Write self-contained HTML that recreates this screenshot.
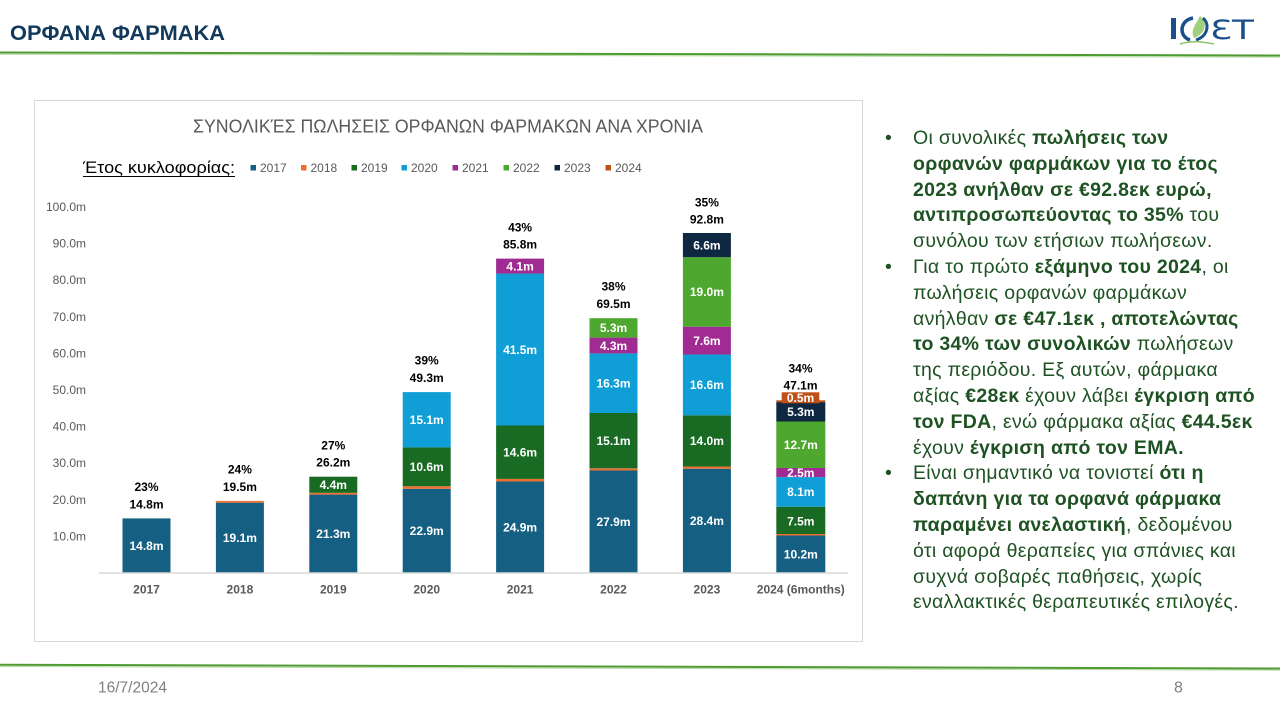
<!DOCTYPE html>
<html>
<head>
<meta charset="utf-8">
<style>
  html,body{margin:0;padding:0;background:#fff;}
  body{width:1280px;height:720px;position:relative;overflow:hidden;font-family:"Liberation Sans","DejaVu Sans",sans-serif;}
  #svg{position:absolute;left:0;top:0;}
  .txt{position:absolute;left:913px;top:126px;font-family:"Liberation Sans","DejaVu Sans",sans-serif;font-size:19.5px;letter-spacing:0.3px;line-height:25.8px;color:#1e5222;}
  .txt div{white-space:nowrap;position:relative;height:25.8px;}
  .txt b{font-weight:bold;}
  .bul{position:absolute;left:-28px;top:0;}
</style>
</head>
<body>
<svg id="svg" width="1280" height="720" viewBox="0 0 1280 720" xmlns="http://www.w3.org/2000/svg">
  <!-- header -->
  <text x="10" y="40" font-family="Liberation Sans, sans-serif" font-weight="bold" font-size="21" fill="#12395b" textLength="215" lengthAdjust="spacingAndGlyphs">ΟΡΦΑΝΑ ΦΑΡΜΑΚΑ</text>
  <line x1="0" y1="52.5" x2="1280" y2="55.5" stroke="#4e9a33" stroke-width="2"/>
  <line x1="0" y1="54.2" x2="1280" y2="57.2" stroke="#b5dba0" stroke-width="1"/>

  <!-- logo -->
  <g>
    <rect x="1171" y="18" width="5" height="21" fill="#1a4f8b"/>
    <path d="M1193 18 C1180 20 1178 36 1190 40" fill="none" stroke="#1a4f8b" stroke-width="3.5"/>
    <path d="M1194 38 C1206 34 1208 22 1200 16 C1196 24 1190 30 1194 38 Z" fill="#9fd07f"/>
    <path d="M1196 40 C1208 36 1210 24 1203 18" fill="none" stroke="#1a4f8b" stroke-width="3"/>
    <path d="M1180 44 C1192 40 1204 42 1214 44" fill="none" stroke="#8cc56a" stroke-width="1.5"/>
    <text x="1210" y="39" font-family="DejaVu Sans, sans-serif" font-size="27" fill="#1a4f8b" textLength="44" lengthAdjust="spacingAndGlyphs">ƐT</text>
  </g>

  <!-- chart panel -->
  <rect x="34.5" y="100.5" width="828" height="541" fill="#fff" stroke="#d9d9d9" stroke-width="1"/>

  <text x="448" y="132.5" text-anchor="middle" font-family="Liberation Sans, sans-serif" font-size="18" fill="#595959" textLength="510" lengthAdjust="spacingAndGlyphs">ΣΥΝΟΛΙΚΈΣ ΠΩΛΗΣΕΙΣ ΟΡΦΑΝΩΝ ΦΑΡΜΑΚΩΝ ΑΝΑ ΧΡΟΝΙΑ</text>

  <!-- legend -->
  <text x="83" y="173" font-family="Liberation Sans, sans-serif" font-size="17" fill="#000" textLength="152" lengthAdjust="spacingAndGlyphs">Έτος κυκλοφορίας:</text>
  <line x1="83" y1="176.5" x2="235" y2="176.5" stroke="#000" stroke-width="1"/>
  <g font-family="Liberation Sans, sans-serif" font-size="12" fill="#595959">
    <rect x="250.5" y="165" width="5.5" height="5.5" fill="#156082"/><text x="260" y="172">2017</text>
    <rect x="301" y="165" width="5.5" height="5.5" fill="#e97132"/><text x="310.5" y="172">2018</text>
    <rect x="351.5" y="165" width="5.5" height="5.5" fill="#196b24"/><text x="361" y="172">2019</text>
    <rect x="401.5" y="165" width="5.5" height="5.5" fill="#0f9ed5"/><text x="411" y="172">2020</text>
    <rect x="452.5" y="165" width="5.5" height="5.5" fill="#a02b93"/><text x="462" y="172">2021</text>
    <rect x="503.5" y="165" width="5.5" height="5.5" fill="#4ea72e"/><text x="513" y="172">2022</text>
    <rect x="554.5" y="165" width="5.5" height="5.5" fill="#0e2841"/><text x="564" y="172">2023</text>
    <rect x="605.5" y="165" width="5.5" height="5.5" fill="#c04f15"/><text x="615" y="172">2024</text>
  </g>

  <!-- y axis labels -->
  <g font-family="Liberation Sans, sans-serif" font-size="12" fill="#595959" text-anchor="end">
    <text x="86" y="211">100.0m</text>
    <text x="86" y="247.5">90.0m</text>
    <text x="86" y="284.2">80.0m</text>
    <text x="86" y="320.8">70.0m</text>
    <text x="86" y="357.4">60.0m</text>
    <text x="86" y="394">50.0m</text>
    <text x="86" y="430.6">40.0m</text>
    <text x="86" y="467.2">30.0m</text>
    <text x="86" y="503.8">20.0m</text>
    <text x="86" y="540.4">10.0m</text>
  </g>

  <!-- bars -->
  <rect x="122.5" y="518.4" width="48" height="54.2" fill="#156082"/>
  <rect x="215.9" y="502.7" width="48" height="69.9" fill="#156082"/>
  <rect x="215.9" y="500.9" width="48" height="1.8" fill="#e97132"/>
  <rect x="309.3" y="494.6" width="48" height="78" fill="#156082"/>
  <rect x="309.3" y="492.8" width="48" height="1.8" fill="#e97132"/>
  <rect x="309.3" y="476.7" width="48" height="16.1" fill="#196b24"/>
  <rect x="402.7" y="488.8" width="48" height="83.8" fill="#156082"/>
  <rect x="402.7" y="486.2" width="48" height="2.6" fill="#e97132"/>
  <rect x="402.7" y="447.4" width="48" height="38.8" fill="#196b24"/>
  <rect x="402.7" y="392.1" width="48" height="55.3" fill="#0f9ed5"/>
  <rect x="496.1" y="481.5" width="48" height="91.1" fill="#156082"/>
  <rect x="496.1" y="478.9" width="48" height="2.6" fill="#e97132"/>
  <rect x="496.1" y="425.5" width="48" height="53.4" fill="#196b24"/>
  <rect x="496.1" y="273.6" width="48" height="151.9" fill="#0f9ed5"/>
  <rect x="496.1" y="258.6" width="48" height="15" fill="#a02b93"/>
  <rect x="589.5" y="470.5" width="48" height="102.1" fill="#156082"/>
  <rect x="589.5" y="468.3" width="48" height="2.2" fill="#e97132"/>
  <rect x="589.5" y="413" width="48" height="55.3" fill="#196b24"/>
  <rect x="589.5" y="353.4" width="48" height="59.6" fill="#0f9ed5"/>
  <rect x="589.5" y="337.6" width="48" height="15.8" fill="#a02b93"/>
  <rect x="589.5" y="318.2" width="48" height="19.4" fill="#4ea72e"/>
  <rect x="682.9" y="468.7" width="48" height="103.9" fill="#156082"/>
  <rect x="682.9" y="466.5" width="48" height="2.2" fill="#e97132"/>
  <rect x="682.9" y="415.3" width="48" height="51.2" fill="#196b24"/>
  <rect x="682.9" y="354.5" width="48" height="60.8" fill="#0f9ed5"/>
  <rect x="682.9" y="326.7" width="48" height="27.8" fill="#a02b93"/>
  <rect x="682.9" y="257.2" width="48" height="69.5" fill="#4ea72e"/>
  <rect x="682.9" y="233" width="48" height="24.2" fill="#0e2841"/>
  <rect x="776.3" y="535.3" width="49" height="37.3" fill="#156082"/>
  <rect x="776.3" y="534" width="49" height="1.5" fill="#e97132"/>
  <rect x="776.3" y="506.7" width="49" height="27.3" fill="#196b24"/>
  <rect x="776.3" y="477.1" width="49" height="29.6" fill="#0f9ed5"/>
  <rect x="776.3" y="468" width="49" height="9.1" fill="#a02b93"/>
  <rect x="776.3" y="421.5" width="49" height="46.5" fill="#4ea72e"/>
  <rect x="776.3" y="402.1" width="49" height="19.4" fill="#0e2841"/>
  <rect x="776.3" y="400.3" width="49" height="1.8" fill="#c04f15"/>
  <rect x="781.7" y="392.3" width="37.6" height="11" fill="#c04f15"/>

  <!-- axis line -->
  <line x1="99" y1="573" x2="848" y2="573" stroke="#d9d9d9" stroke-width="1.5"/>

  <!-- segment labels -->
  <g font-family="Liberation Sans, sans-serif" font-size="12" font-weight="bold" fill="#fff" text-anchor="middle">
    <text x="146.5" y="550">14.8m</text>
    <text x="239.9" y="542">19.1m</text>
    <text x="333.3" y="538">21.3m</text>
    <text x="333.3" y="489">4.4m</text>
    <text x="426.7" y="535">22.9m</text>
    <text x="426.7" y="471.1">10.6m</text>
    <text x="426.7" y="424.1">15.1m</text>
    <text x="520.1" y="531.3">24.9m</text>
    <text x="520.1" y="456.5">14.6m</text>
    <text x="520.1" y="353.9">41.5m</text>
    <text x="520.1" y="270.4">4.1m</text>
    <text x="613.5" y="525.8">27.9m</text>
    <text x="613.5" y="445">15.1m</text>
    <text x="613.5" y="387.5">16.3m</text>
    <text x="613.5" y="349.8">4.3m</text>
    <text x="613.5" y="332.2">5.3m</text>
    <text x="706.9" y="524.9">28.4m</text>
    <text x="706.9" y="445.2">14.0m</text>
    <text x="706.9" y="389.2">16.6m</text>
    <text x="706.9" y="344.9">7.6m</text>
    <text x="706.9" y="296.2">19.0m</text>
    <text x="706.9" y="249.4">6.6m</text>
    <text x="800.8" y="558.3">10.2m</text>
    <text x="800.8" y="525.3">7.5m</text>
    <text x="800.8" y="496.2">8.1m</text>
    <text x="800.8" y="476.8">2.5m</text>
    <text x="800.8" y="449">12.7m</text>
    <text x="800.8" y="416.1">5.3m</text>
    <text x="800.5" y="402.1">0.5m</text>
  </g>

  <!-- totals -->
  <g font-family="Liberation Sans, sans-serif" font-size="12" font-weight="bold" fill="#000" text-anchor="middle">
    <text x="146.5" y="491">23%</text><text x="146.5" y="508.3">14.8m</text>
    <text x="239.9" y="473.6">24%</text><text x="239.9" y="491">19.5m</text>
    <text x="333.3" y="449.3">27%</text><text x="333.3" y="466.5">26.2m</text>
    <text x="426.7" y="364.3">39%</text><text x="426.7" y="381.8">49.3m</text>
    <text x="520.1" y="231.5">43%</text><text x="520.1" y="248.5">85.8m</text>
    <text x="613.5" y="290.5">38%</text><text x="613.5" y="308">69.5m</text>
    <text x="706.9" y="206.3">35%</text><text x="706.9" y="223.5">92.8m</text>
    <text x="800.5" y="372.6">34%</text><text x="800.5" y="389.3">47.1m</text>
  </g>

  <!-- x labels -->
  <g font-family="Liberation Sans, sans-serif" font-size="12" font-weight="bold" fill="#595959" text-anchor="middle">
    <text x="146.5" y="593.5">2017</text>
    <text x="239.9" y="593.5">2018</text>
    <text x="333.3" y="593.5">2019</text>
    <text x="426.7" y="593.5">2020</text>
    <text x="520.1" y="593.5">2021</text>
    <text x="613.5" y="593.5">2022</text>
    <text x="706.9" y="593.5">2023</text>
    <text x="800.8" y="593.5">2024 (6months)</text>
  </g>

  <!-- footer -->
  <line x1="0" y1="664.8" x2="1280" y2="668.5" stroke="#4e9a33" stroke-width="2"/>
  <line x1="0" y1="666.5" x2="1280" y2="670.2" stroke="#b5dba0" stroke-width="1"/>
  <text x="98" y="692.5" font-family="Liberation Sans, sans-serif" font-size="16" fill="#7f7f7f" textLength="69" lengthAdjust="spacingAndGlyphs">16/7/2024</text>
  <text x="1174" y="692.5" font-family="Liberation Sans, sans-serif" font-size="16" fill="#7f7f7f">8</text>
</svg>

<div class="txt">
  <div><span class="bul">•</span>Οι συνολικές <b>πωλήσεις των</b></div>
  <div><b>ορφανών φαρμάκων για το έτος</b></div>
  <div><b>2023 ανήλθαν σε €92.8εκ ευρώ,</b></div>
  <div><b>αντιπροσωπεύοντας το 35%</b> του</div>
  <div>συνόλου των ετήσιων πωλήσεων.</div>
  <div><span class="bul">•</span>Για το πρώτο <b>εξάμηνο του 2024</b>, οι</div>
  <div>πωλήσεις ορφανών φαρμάκων</div>
  <div>ανήλθαν <b>σε €47.1εκ , αποτελώντας</b></div>
  <div><b>το 34% των συνολικών</b> πωλήσεων</div>
  <div>της περιόδου. Εξ αυτών, φάρμακα</div>
  <div>αξίας <b>€28εκ</b> έχουν λάβει <b>έγκριση από</b></div>
  <div><b>τον FDA</b>, ενώ φάρμακα αξίας <b>€44.5εκ</b></div>
  <div>έχουν <b>έγκριση από τον EMA.</b></div>
  <div><span class="bul">•</span>Είναι σημαντικό να τονιστεί <b>ότι η</b></div>
  <div><b>δαπάνη για τα ορφανά φάρμακα</b></div>
  <div><b>παραμένει ανελαστική</b>, δεδομένου</div>
  <div>ότι αφορά θεραπείες για σπάνιες και</div>
  <div>συχνά σοβαρές παθήσεις, χωρίς</div>
  <div>εναλλακτικές θεραπευτικές επιλογές.</div>
</div>
</body>
</html>
